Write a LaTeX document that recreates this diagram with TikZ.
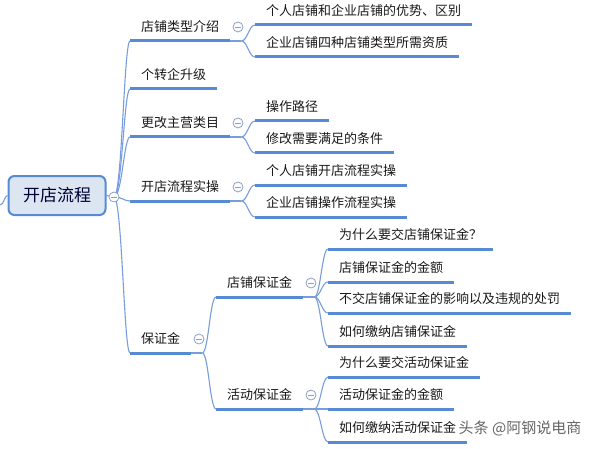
\documentclass[tikz,border=0pt]{standalone}
\usepackage{fontspec}
\usepackage{xcolor}
\usepackage{tikz}
\newfontfamily\cjk{Noto Sans CJK SC}
\definecolor{bleuTrait}{RGB}{86,138,212}
\definecolor{bleuLien}{RGB}{118,158,220}
\definecolor{bleuFond}{RGB}{220,230,243}
\definecolor{grisBouton}{RGB}{140,160,198}

\begin{document}
\begin{tikzpicture}[x=1pt,y=-1pt]
% Styles (MODIFIABLES)
\tikzstyle{racine}=[draw=bleuTrait,line width=2pt,fill=bleuFond,rounded corners=6pt,minimum width=97pt,minimum height=39pt,font=\cjk\fontsize{17}{20}\selectfont,text=black!80!blue]
\tikzstyle{sujet}=[anchor=south west,inner xsep=11pt,inner ysep=5pt,text height=11pt,text depth=4pt,font=\cjk\fontsize{13}{15}\selectfont,text=black!90]
\tikzstyle{souligne}=[bleuTrait,line width=3pt]
\tikzstyle{lien}=[bleuLien,line width=1.1pt]
\tikzstyle{bouton}=[circle,draw=grisBouton,fill=white,line width=0.8pt,minimum size=10pt,inner sep=0pt,
  path picture={\draw[grisBouton,line width=0.8pt] ([xshift=-2.8pt]path picture bounding box.center)--([xshift=2.8pt]path picture bounding box.center);}]
\tikzstyle{filigrane}=[font=\cjk\fontsize{15}{17}\selectfont,text=black!60]
\useasboundingbox (0,0) rectangle (596,449);
% Noeuds
\node[racine] (R) at (57,195.5) {开店流程};
\node[sujet] (Ra) at (130,41) {店铺类型介绍};
\node[sujet] (Rb) at (130,89) {个转企升级};
\node[sujet] (Rc) at (130,137) {更改主营类目};
\node[sujet] (Rd) at (130,201) {开店流程实操};
\node[sujet] (Re) at (130,353) {保证金};
\node[sujet] (Raa) at (255,25) {个人店铺和企业店铺的优势、区别};
\node[sujet] (Rab) at (255,57) {企业店铺四种店铺类型所需资质};
\node[sujet] (Rca) at (255,121) {操作路径};
\node[sujet] (Rcb) at (255,153) {修改需要满足的条件};
\node[sujet] (Rda) at (255,185) {个人店铺开店流程实操};
\node[sujet] (Rdb) at (255,217) {企业店铺操作流程实操};
\node[sujet] (Rea) at (216,297) {店铺保证金};
\node[sujet] (Reb) at (216,409) {活动保证金};
\node[sujet] (Reaa) at (328,249) {为什么要交店铺保证金？};
\node[sujet] (Reab) at (328,282) {店铺保证金的金额};
\node[sujet] (Reac) at (328,313) {不交店铺保证金的影响以及违规的处罚};
\node[sujet] (Read) at (328,346) {如何缴纳店铺保证金};
\node[sujet] (Reba) at (328,377) {为什么要交活动保证金};
\node[sujet] (Rebb) at (328,409) {活动保证金的金额};
\node[sujet] (Rebc) at (328,442) {如何缴纳活动保证金};
\node[filigrane] (W) at (520,428) {头条 @阿钢说电商};
% Soulignements
\draw[souligne] (Ra.south west)--(Ra.south east);
\draw[souligne] (Rb.south west)--(Rb.south east);
\draw[souligne] (Rc.south west)--(Rc.south east);
\draw[souligne] (Rd.south west)--(Rd.south east);
\draw[souligne] (Re.south west)--(Re.south east);
\draw[souligne] (Raa.south west)--(Raa.south east);
\draw[souligne] (Rab.south west)--(Rab.south east);
\draw[souligne] (Rca.south west)--(Rca.south east);
\draw[souligne] (Rcb.south west)--(Rcb.south east);
\draw[souligne] (Rda.south west)--(Rda.south east);
\draw[souligne] (Rdb.south west)--(Rdb.south east);
\draw[souligne] (Rea.south west)--(Rea.south east);
\draw[souligne] (Reb.south west)--(Reb.south east);
\draw[souligne] (Reaa.south west)--(Reaa.south east);
\draw[souligne] (Reab.south west)--(Reab.south east);
\draw[souligne] (Reac.south west)--(Reac.south east);
\draw[souligne] (Read.south west)--(Read.south east);
\draw[souligne] (Reba.south west)--(Reba.south east);
\draw[souligne] (Rebb.south west)--(Rebb.south east);
\draw[souligne] (Rebc.south west)--(Rebc.south east);
% Jonctions
\coordinate (O) at (0,205);
\coordinate (JRa) at ([xshift=11pt]Ra.south east);
\coordinate (JRc) at ([xshift=11pt]Rc.south east);
\coordinate (JRd) at ([xshift=11pt]Rd.south east);
\coordinate (JRe) at ([xshift=11pt]Re.south east);
\coordinate (JRea) at ([xshift=11pt]Rea.south east);
\coordinate (JReb) at ([xshift=11pt]Reb.south east);
% Arcs
\draw[lien] (O) .. controls +(4,0) and +(-3,0) .. (R.west);
\draw[lien] (R.east) -- (114,197);
\draw[lien] (114,197) .. controls +(8,0) and +(-6,0) .. (Ra.south west);
\draw[lien] (114,197) .. controls +(8,0) and +(-6,0) .. (Rb.south west);
\draw[lien] (114,197) .. controls +(8,0) and +(-6,0) .. (Rc.south west);
\draw[lien] (114,197) .. controls +(8,0) and +(-6,0) .. (Rd.south west);
\draw[lien] (114,197) .. controls +(8,0) and +(-6,0) .. (Re.south west);
\draw[lien] (Ra.south east) -- (JRa);
\draw[lien] (JRa) .. controls +(6,0) and +(-6,0) .. (Raa.south west);
\draw[lien] (JRa) .. controls +(6,0) and +(-6,0) .. (Rab.south west);
\draw[lien] (Rc.south east) -- (JRc);
\draw[lien] (JRc) .. controls +(6,0) and +(-6,0) .. (Rca.south west);
\draw[lien] (JRc) .. controls +(6,0) and +(-6,0) .. (Rcb.south west);
\draw[lien] (Rd.south east) -- (JRd);
\draw[lien] (JRd) .. controls +(6,0) and +(-6,0) .. (Rda.south west);
\draw[lien] (JRd) .. controls +(6,0) and +(-6,0) .. (Rdb.south west);
\draw[lien] (Re.south east) -- (JRe);
\draw[lien] (JRe) .. controls +(6,0) and +(-6,0) .. (Rea.south west);
\draw[lien] (JRe) .. controls +(6,0) and +(-6,0) .. (Reb.south west);
\draw[lien] (Rea.south east) -- (JRea);
\draw[lien] (JRea) .. controls +(6,0) and +(-6,0) .. (Reaa.south west);
\draw[lien] (JRea) .. controls +(6,0) and +(-6,0) .. (Reab.south west);
\draw[lien] (JRea) .. controls +(6,0) and +(-6,0) .. (Reac.south west);
\draw[lien] (JRea) .. controls +(6,0) and +(-6,0) .. (Read.south west);
\draw[lien] (Reb.south east) -- (JReb);
\draw[lien] (JReb) .. controls +(6,0) and +(-6,0) .. (Reba.south west);
\draw[lien] (JReb) .. controls +(6,0) and +(-6,0) .. (Rebb.south west);
\draw[lien] (JReb) .. controls +(6,0) and +(-6,0) .. (Rebc.south west);
% Boutons
\node[bouton] (BR) at (114,197) {};
\node[bouton] (BRa) at (238,27) {};
\node[bouton] (BRc) at (238,123) {};
\node[bouton] (BRd) at (238,187) {};
\node[bouton] (BRe) at (199,339) {};
\node[bouton] (BRea) at (311,283) {};
\node[bouton] (BReb) at (311,395) {};
\end{tikzpicture}
\end{document}
